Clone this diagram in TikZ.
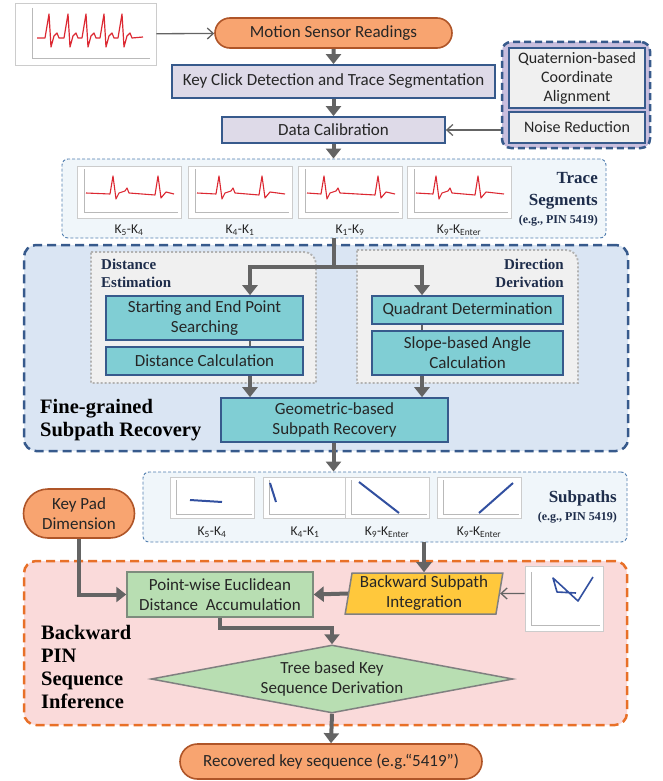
\documentclass[tikz,border=0pt]{standalone}
\usepackage{fontspec}
\setmainfont{Carlito}
\newfontfamily\headfont{Liberation Serif}
\usetikzlibrary{arrows.meta,shapes.geometric,shapes.misc,positioning}

\definecolor{arrowgray}{RGB}{100,100,100}
\definecolor{pillfill}{RGB}{248,164,112}
\definecolor{pilldraw}{RGB}{175,85,40}
\definecolor{lavfill}{RGB}{222,218,232}
\definecolor{lavgroup}{RGB}{200,190,222}
\definecolor{steel}{RGB}{55,90,140}
\definecolor{tracefill}{RGB}{240,246,250}
\definecolor{tracedraw}{RGB}{80,125,175}
\definecolor{finefill}{RGB}{218,229,243}
\definecolor{grpfill}{RGB}{240,240,240}
\definecolor{tealfill}{RGB}{128,206,212}
\definecolor{pinkfill}{RGB}{250,218,218}
\definecolor{pinkdraw}{RGB}{232,112,40}
\definecolor{greenfill}{RGB}{184,222,178}
\definecolor{greendraw}{RGB}{125,140,125}
\definecolor{yellowfill}{RGB}{255,200,60}
\definecolor{sigred}{RGB}{220,40,50}
\definecolor{pathblue}{RGB}{50,80,160}
\definecolor{headblue}{RGB}{30,45,75}

\begin{document}
\begin{tikzpicture}
    [x=1pt, y=-1pt,
    every node/.style={font=\fontsize{17}{20}\selectfont, align=center, inner sep=0pt, text=black!85},
    flow/.style={draw=arrowgray, line width=4pt, -{Triangle[length=10pt,width=15pt]}},
    thinflow/.style={draw=arrowgray, line width=1.3pt, -{Straight Barb[length=6pt,width=11pt]}},
    joint/.style={draw=arrowgray, line width=4pt},
    tie/.style={draw=arrowgray, line width=2.2pt},
    pill/.style={rounded rectangle, draw=pilldraw, fill=pillfill, line width=1.6pt},
    lavbox/.style={draw=steel, fill=lavfill, line width=1.8pt},
    graybox/.style={draw=steel, fill=grpfill, line width=1.6pt, font=\fontsize{16}{19}\selectfont},
    tealbox/.style={draw=steel, fill=tealfill, line width=1.6pt},
    greenbox/.style={draw=greendraw, fill=greenfill, line width=1.5pt},
    prepgrp/.style={draw=steel, fill=lavgroup, line width=2.5pt, dash pattern=on 7pt off 4pt, rounded corners=9pt},
    finegrp/.style={draw=steel, fill=finefill, line width=2.5pt, dash pattern=on 9pt off 5pt, rounded corners=12pt},
    infergrp/.style={draw=pinkdraw, fill=pinkfill, line width=2.5pt, dash pattern=on 9pt off 5pt, rounded corners=12pt},
    samplebox/.style={draw=tracedraw, fill=tracefill, line width=0.9pt, dash pattern=on 3pt off 2pt, rounded corners=6pt},
    subgrp/.style={draw=gray!60, fill=grpfill, line width=1.8pt, dash pattern=on 2pt off 2pt},
    thumb/.style={draw=gray!40, fill=white, line width=0.6pt},
    axis/.style={draw=gray!55, line width=0.5pt},
    stagelabel/.style={font=\headfont\bfseries\fontsize{20.5}{23}\selectfont, text=black, align=left},
    sublabel/.style={font=\headfont\bfseries\fontsize{15}{18}\selectfont, text=headblue},
    samplelabel/.style={font=\headfont\bfseries\fontsize{17}{22}\selectfont, text=headblue, align=right},
    keylabel/.style={font=\fontsize{13.5}{15}\selectfont}]

    \useasboundingbox (0,0) rectangle (662,781);

    % sensing and preprocessing
    \node[thumb, minimum width=141, minimum height=62] (sig) at (85.5,34) {};
    \draw[axis] (32,8) -- (32,58) -- (150,58);
    \draw[sigred, line width=1.2pt, line join=round] (37,38)
      \foreach \s in {49,68,86,104,122} {-- (\s-4,38) -- (\s,14) -- (\s+2,47) -- (\s+5,36) -- (\s+8,33) -- (\s+10,38)} -- (143,37);
    \node[pill, minimum width=237, minimum height=30] (motion) at (333.5,33) {Motion Sensor Readings};
    \node[lavbox, minimum width=323, minimum height=33] (key) at (333.5,81.5) {Key Click Detection and Trace Segmentation};
    \node[lavbox, minimum width=223, minimum height=26] (calib) at (333.5,130) {Data Calibration};
    \node[prepgrp, minimum width=148, minimum height=106] (prep) at (576,95) {};
    \node[graybox, minimum width=136, minimum height=60] (quat) at (577,78) {Quaternion-based\\Coordinate\\Alignment};
    \node[graybox, minimum width=136, minimum height=31] (noise) at (577,127.5) {Noise Reduction};
    \draw[thinflow] (sig) -- (motion);
    \draw[flow] (motion) -- (key);
    \draw[flow] (key) -- (calib);
    \draw[thinflow] (prep.west |- calib) -- (calib);

    % trace segments
    \node[samplebox, minimum width=544, minimum height=79] (trace) at (334,198.5) {};
    \draw[flow] (calib.south) -- (calib.south |- trace.north);
    \foreach \cx/\sa/\sb/\lbl in {129/113/158/K\textsubscript{5}-K\textsubscript{4},
        240/219/262/K\textsubscript{4}-K\textsubscript{1},
        350/324/378/K\textsubscript{1}-K\textsubscript{9},
        459/436/478/K\textsubscript{9}-K\textsubscript{Enter}} {
      \draw[thumb] (\cx-52,166) rectangle (\cx+52,218);
      \draw[axis] (\cx-45,169) -- (\cx-45,212) -- (\cx+49,212);
      \draw[sigred, line width=1.1pt, line join=round] (\cx-43,193) -- (\sa-3,194) -- (\sa,176) -- (\sa+3,199)
        -- (\sa+6,193) -- (\sa+12,191) -- (\sa+14,188) -- (\sa+16,193) -- (\sb-3,195) -- (\sb,176)
        -- (\sb+3,198) -- (\sb+8,192) -- (\cx+45,194);
      \node[keylabel] at (\cx,230) {\lbl};
    }
    \node[samplelabel, anchor=north east] (tracelbl) at (598,172) {Trace\\Segments\\[-4pt]{\fontsize{12}{13}\selectfont(e.g., PIN 5419)}};

    % fine-grained subpath recovery
    \node[finegrp, minimum width=604, minimum height=206] (fine) at (326,348) {};
    \draw[subgrp] (91,252) -- (304,252) to[out=0,in=90] (316,264) -- (316,383) -- (91,383) -- cycle;
    \draw[subgrp] (357,250) -- (566,250) to[out=0,in=90] (578,262) -- (578,383) -- (357,383) -- cycle;
    \node[sublabel, anchor=north west, align=left] (distlbl) at (101,259) {Distance\\Estimation};
    \node[sublabel, anchor=north east, align=right] (dirlbl) at (564,259) {Direction\\Derivation};
    \node[tealbox, minimum width=197, minimum height=44] (start) at (204.5,318) {Starting and End Point\\Searching};
    \node[tealbox, minimum width=197, minimum height=28] (dcalc) at (204.5,361) {Distance Calculation};
    \node[tealbox, minimum width=191, minimum height=28] (quad) at (467.5,310) {Quadrant Determination};
    \node[tealbox, minimum width=191, minimum height=44] (slope) at (467.5,353) {Slope-based Angle\\Calculation};
    \node[tealbox, minimum width=227, minimum height=44] (geo) at (334.5,420) {Geometric-based\\Subpath Recovery};
    \node[stagelabel, anchor=north west] (finelbl) at (40,399) {Fine-grained\\Subpath Recovery};
    \draw[joint] (trace.south -| calib.south) -- ++(0,29) coordinate (split);
    \draw[flow] (split) -| ([xshift=45.5]start.north);
    \draw[flow] (split) -| ([xshift=-45.5]quad.north);
    \draw[tie] ([xshift=45.5]start.south) -- ([xshift=45.5]dcalc.north);
    \draw[tie] ([xshift=-45.5]quad.south) -- ([xshift=-45.5]slope.north);
    \draw[flow] ([xshift=45.5]dcalc.south) -- ([xshift=45.5]dcalc.south |- geo.north);
    \draw[flow] ([xshift=-45.5]slope.south) -- ([xshift=-45.5]slope.south |- geo.north);

    % subpaths
    \node[samplebox, minimum width=484, minimum height=70] (sub) at (385,507) {};
    \draw[flow] (geo.south -| calib.south) -- (calib.south |- sub.north);
    \foreach \cx/\xa/\ya/\xb/\yb/\lbl in {212/190/500/222/502/K\textsubscript{5}-K\textsubscript{4},
        305/270/483/276/502/K\textsubscript{4}-K\textsubscript{1},
        387/359/482/399/513/K\textsubscript{9}-K\textsubscript{Enter},
        479/479/513/513/483/K\textsubscript{9}-K\textsubscript{Enter}} {
      \draw[thumb] (\cx-42,477) rectangle (\cx+42,518);
      \draw[axis] (\cx-36,480) -- (\cx-36,514) -- (\cx+40,514);
      \draw[pathblue, line width=2pt] (\xa,\ya) -- (\xb,\yb);
      \node[keylabel] at (\cx,532) {\lbl};
    }
    \node[samplelabel, anchor=north east] (sublbl) at (617,490) {Subpaths\\[-4pt]{\fontsize{12}{13}\selectfont(e.g., PIN 5419)}};

    % backward PIN sequence inference
    \node[pill, minimum width=111, minimum height=49] (keypad) at (79,513.5) {Key Pad\\Dimension};
    \node[infergrp, minimum width=603, minimum height=164] (infer) at (325.5,643) {};
    \node[greenbox, minimum width=186, minimum height=45] (pweda) at (220,594.5) {Point-wise Euclidean\\Distance\ \ Accumulation};
    \node[trapezium, trapezium left angle=80, trapezium right angle=100, trapezium stretches=true,
      draw=gray, fill=yellowfill, line width=1.5pt, minimum width=158, minimum height=41] (bsi) at (424,593.5) {Backward Subpath\\Integration};
    \node[thumb, minimum width=78, minimum height=65] (pathimg) at (564,598.5) {};
    \draw[axis] (531,572) -- (531,625) -- (600,625);
    \draw[pathblue, line width=1.6pt, line join=round] (576,593) -- (557,592) -- (553,578) -- (578,601) -- (593,577);
    \node[diamond, aspect=5, draw=gray, fill=greenfill, line width=1.5pt, minimum width=362, minimum height=68] (tree) at (332,679) {Tree based Key\\Sequence Derivation};
    \node[stagelabel, anchor=north west] (inferlbl) at (41,625) {Backward\\PIN\\Sequence\\Inference};
    \draw[flow] (bsi.north |- sub.south) -- (bsi.north);
    \draw[thinflow] (pathimg.west |- bsi) -- (bsi.east);
    \draw[flow] (bsi.west) -- (pweda.east);
    \draw[flow] (keypad.south) |- (pweda.west);
    \draw[flow] (pweda.south) -- ++(0,10) -| (tree.north);
    \node[pill, minimum width=302, minimum height=35] (recov) at (331,761.5) {Recovered key sequence (e.g.“5419”)};
    \draw[flow] (tree.south) -- (recov.north);
\end{tikzpicture}
\end{document}
